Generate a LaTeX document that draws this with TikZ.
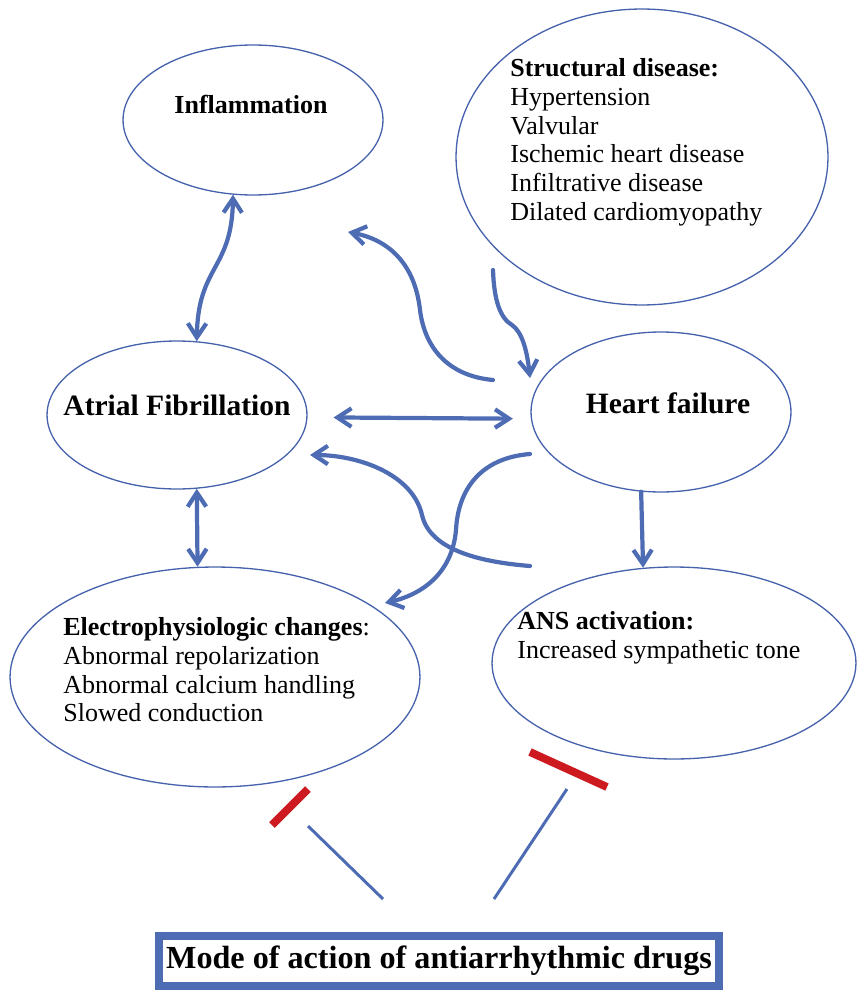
\documentclass[tikz,border=0pt]{standalone}
\usepackage{fontspec}
\setmainfont{Liberation Serif}
\usetikzlibrary{arrows.meta, shapes.geometric}

\definecolor{linkblue}{RGB}{78,108,180}
\definecolor{ringblue}{RGB}{70,98,172}
\definecolor{blockred}{RGB}{204,26,32}

\begin{document}
\begin{tikzpicture}[>={Straight Barb[length=8pt, width=10.5pt]}, x=0.02cm, y=-0.02cm,
    bubble/.style={ellipse, draw=ringblue, line width=0.75pt, inner sep=0pt},
    link/.style={draw=linkblue, line width=2.4pt, line cap=round},
    listtext/.style={anchor=north west, align=left, inner sep=0pt, font=\fontsize{14.8}{16.4}\selectfont},
    bigtitle/.style={anchor=base, inner sep=0pt, font=\fontsize{16.8}{20}\selectfont\bfseries},
    drugline/.style={draw=linkblue, line width=1.7pt},
    blocker/.style={draw=blockred, line width=4.5pt}]

    \useasboundingbox (0,0) rectangle (858,990);

    % --- Ellipses ---
    \node[bubble, minimum width=5.2cm, minimum height=3cm] (infl) at (253,120) {};
    \node[bubble, minimum width=7.44cm, minimum height=5.92cm] (struct) at (642,157) {};
    \node[bubble, minimum width=5.2cm, minimum height=2.96cm] (af) at (177,415) {};
    \node[bubble, minimum width=5.2cm, minimum height=3.2cm] (hf) at (661,412) {};
    \node[bubble, minimum width=8.2cm, minimum height=4.4cm] (ep) at (215,677) {};
    \node[bubble, minimum width=7.28cm, minimum height=3.84cm] (ans) at (674,663) {};

    % --- Texts ---
    \node[anchor=base, inner sep=0pt, font=\fontsize{14.8}{17}\selectfont\bfseries] (infltext) at (251,113) {Inflammation};
    \node[listtext] (structtext) at (510,58) {\textbf{Structural disease:}\\Hypertension\\Valvular\\Ischemic heart disease\\Infiltrative disease\\Dilated cardiomyopathy};
    \node[bigtitle] (aftext) at (177,415) {Atrial Fibrillation};
    \node[bigtitle] (hftext) at (668,413) {Heart failure};
    \node[listtext] (eptext) at (63,617) {\textbf{Electrophysiologic changes}:\\Abnormal repolarization\\Abnormal calcium handling\\Slowed conduction};
    \node[listtext] (anstext) at (517,611) {\textbf{ANS activation:}\\Increased sympathetic tone};

    % --- Drug box ---
    \node[draw=linkblue, line width=5pt, minimum width=11.2cm, minimum height=1cm,
        font=\fontsize{18.3}{22}\selectfont\bfseries] (drugs) at (439,961) {Mode of action of antiarrhythmic drugs};

    % --- Free ends of the curved arrows ---
    \coordinate (t2) at (493,380); % heart failure -> inflammation
    \coordinate (h2) at (348,232);
    \coordinate (t3) at (493,270); % structural -> heart failure
    \coordinate (h3) at (530,378);
    \coordinate (t5) at (530,566); % heart failure -> atrial fibrillation
    \coordinate (h5) at (310,455);
    \coordinate (t6) at (530,454); % heart failure -> electrophysiology
    \coordinate (h6) at (385,603);

    % --- Arrows ---
    \draw[link, <->] (infl.-105) .. controls (232,270) and (198,265) .. (af.75);
    \draw[link, ->] (t2) .. controls (450,376) and (425,350) .. (420,310)
        .. controls (415,265) and (390,240) .. (h2);
    \draw[link, ->] (t3) .. controls (494,300) and (500,318) .. (512,325)
        .. controls (522,332) and (527,350) .. (h3);
    \draw[link, <->, shorten <=0.52cm, shorten >=0.36cm] (af.-1) -- (hf.-177);
    \draw[link, ->] (t5) .. controls (480,562) and (430,550) .. (422,515)
        .. controls (413,475) and (360,455) .. (h5);
    \draw[link, ->] (t6) .. controls (480,458) and (458,490) .. (456,530)
        .. controls (452,575) and (420,595) .. (h6);
    \draw[link, <->] (af.-75) -- (ep.99);
    \draw[link, ->] (hf.-104) -- (ans.108);

    % --- Drug action, blocked ends ---
    \coordinate (d1) at (383,899);
    \coordinate (d1top) at (308,826);
    \coordinate (d2) at (494,899);
    \coordinate (d2top) at (567,789);
    \draw[drugline] (d1) -- (d1top);
    \draw[drugline] (d2) -- (d2top);
    \draw[blocker] (272,825) -- (308,789);
    \draw[blocker] (530,752) -- (607,787);

\end{tikzpicture}
\end{document}
